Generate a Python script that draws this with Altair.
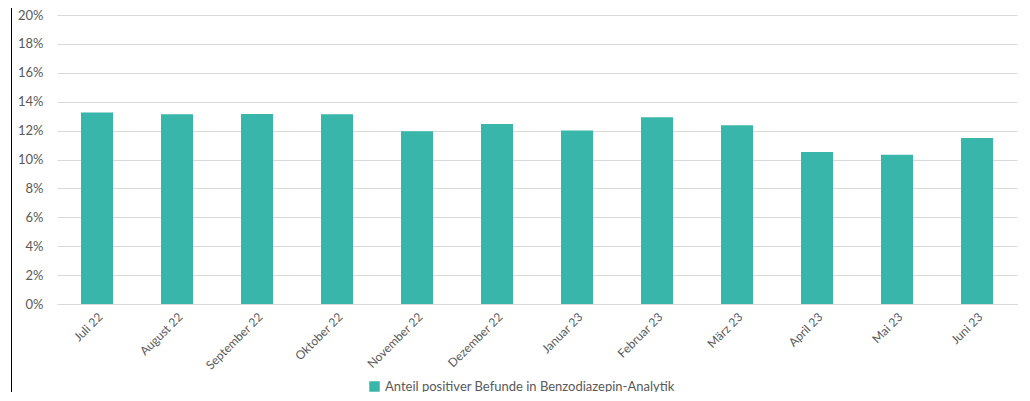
import altair as alt
import pandas as pd

months = ["Juli 22", "August 22", "September 22", "Oktober 22", "November 22", "Dezember 22",
          "Januar 23", "Februar 23", "März 23", "April 23", "Mai 23", "Juni 23"]
shares = [0.1325, 0.1313, 0.1315, 0.1313, 0.1195, 0.1246,
          0.1200, 0.1292, 0.1237, 0.1052, 0.1033, 0.1149]
series_name = "Anteil positiver Befunde in Benzodiazepin-Analytik"
y_ticks = [0, 0.02, 0.04, 0.06, 0.08, 0.10, 0.12, 0.14, 0.16, 0.18, 0.20]

df = pd.DataFrame({"Monat": months, "Anteil": shares, "Serie": series_name})

FONT = "Lato"
W, H = 960, 289

bars = alt.Chart(df).mark_bar(color="#38b6aa").encode(
    x=alt.X("Monat:N", sort=months, title=None,
            scale=alt.Scale(paddingInner=0.6, paddingOuter=0.3),
            axis=alt.Axis(labelAngle=-45, labelFontSize=12, labelColor="#595959",
                          labelFont=FONT, ticks=False, domain=True, domainColor="#d9d9d9",
                          labelPadding=7)),
    y=alt.Y("Anteil:Q", title=None,
            scale=alt.Scale(domain=[0, 0.2], nice=False),
            axis=alt.Axis(values=y_ticks, format=".0%", labelFontSize=13, labelColor="#595959",
                          labelFont=FONT, ticks=False, domain=False, gridColor="#d9d9d9",
                          labelPadding=14)),
    color=alt.Color("Serie:N", title=None,
                    scale=alt.Scale(range=["#38b6aa"]),
                    legend=alt.Legend(orient="none", legendX=311, legendY=365,
                                      symbolType="square", symbolSize=110,
                                      symbolStrokeWidth=0, labelFontSize=13,
                                      labelColor="#595959", labelFont=FONT,
                                      labelLimit=1000, symbolOpacity=1)),
)

border = alt.Chart(pd.DataFrame({"v": [0]})).mark_rule(color="#000000", strokeWidth=1).encode(
    x=alt.value(-45.5), y=alt.value(-7), y2=alt.value(H + 95)
)

chart = alt.layer(bars, border).properties(
    width=W, height=H,
    padding={"left": 49, "top": 7, "right": 5, "bottom": 88},
    autosize=alt.AutoSizeParams(type="none"),
).configure_view(stroke=None)

chart.save("out.html", embed_options={"renderer": "svg", "actions": False})
